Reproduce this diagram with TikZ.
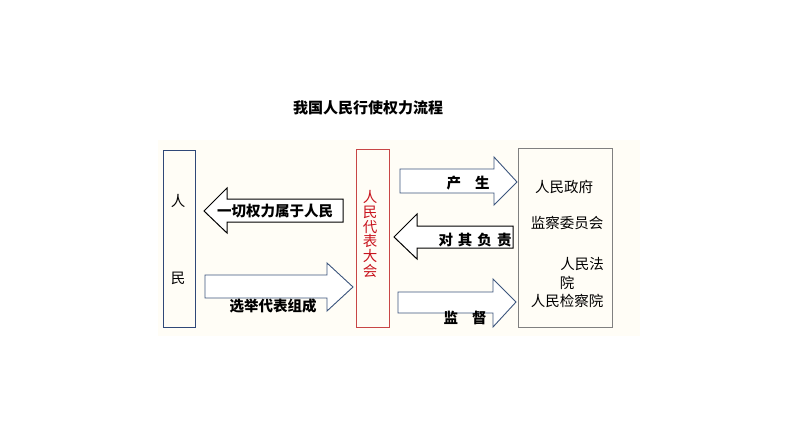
\documentclass[tikz,border=0pt]{standalone}
\usepackage{fontspec}
\newfontfamily\cjk{Noto Sans CJK SC}
\definecolor{navy}{RGB}{47,72,120}
\definecolor{arrblue}{RGB}{60,85,125}
\definecolor{boxred}{RGB}{200,70,70}
\definecolor{txtred}{RGB}{200,20,30}
\definecolor{cream}{RGB}{255,253,246}
\begin{document}
\begin{tikzpicture}[x=1pt,y=-1pt,
  every node/.style={font=\cjk\fontsize{14.5}{15}\selectfont, inner sep=0pt},
  bold/.style={font=\cjk\bfseries\fontsize{14.5}{15}\selectfont},
  bluebox/.style={draw=navy, line width=1pt},
  redbox/.style={draw=boxred, line width=1pt},
  graybox/.style={draw=black!50, line width=0.8pt},
  blkarrow/.style={draw=black, line width=1pt, fill=white, line join=miter},
  bluarrow/.style={draw=arrblue, line width=0.9pt, fill=white, line join=miter}]
\useasboundingbox (0,0) rectangle (794,447);
\fill[cream] (158,140) rectangle (640,336);
% title
\node[font=\cjk\bfseries\fontsize{15}{16}\selectfont] (title) at (368,108) {我国人民行使权力流程};
% boxes
\draw[bluebox] (163,150) rectangle (195,327);
\node (ren) at (178,201) {人};
\node (min) at (178,278) {民};
\draw[redbox] (356,149) rectangle (389,327);
\node[text=txtred, align=center, font=\cjk\fontsize{14.5}{14.7}\selectfont] (npc) at (370,234) {人\\民\\代\\表\\大\\会};
\draw[graybox] (518,148) rectangle (612,327);
\node (gov) at (564,187) {人民政府};
\node (jc) at (567,223) {监察委员会};
\node (fy) at (582,264) {人民法};
\node (yuan) at (567,283) {院};
\node (jcy) at (567,301) {人民检察院};
% arrows
\draw[blkarrow] (204,211) -- (227,188) -- (227,199) -- (343,199) -- (343,222) -- (227,222) -- (227,233) -- cycle;
\node[bold] (a1) at (275,211) {一切权力属于人民};
\draw[bluarrow] (205,275) -- (327,275) -- (327,263) -- (353,287) -- (327,311) -- (327,298) -- (205,298) -- cycle;
\node[bold] (a2) at (273,306) {选举代表组成};
\draw[bluarrow] (400,169) -- (494,169) -- (494,157) -- (517,182) -- (494,205) -- (494,193) -- (400,193) -- cycle;
\node[bold] (a3) at (468,183) {产\hspace{14pt}生};
\draw[blkarrow] (394,237) -- (417,214) -- (417,226) -- (513,226) -- (513,248) -- (417,248) -- (417,259) -- cycle;
\node[bold] (a4) at (475,240) {对\hspace{5pt}其\hspace{5pt}负\hspace{5pt}责};
\draw[bluarrow] (398,292) -- (493,292) -- (493,279) -- (516,302) -- (493,327) -- (493,313) -- (398,313) -- cycle;
\node[bold] (a5) at (465,318) {监\hspace{14pt}督};
\end{tikzpicture}
\end{document}
